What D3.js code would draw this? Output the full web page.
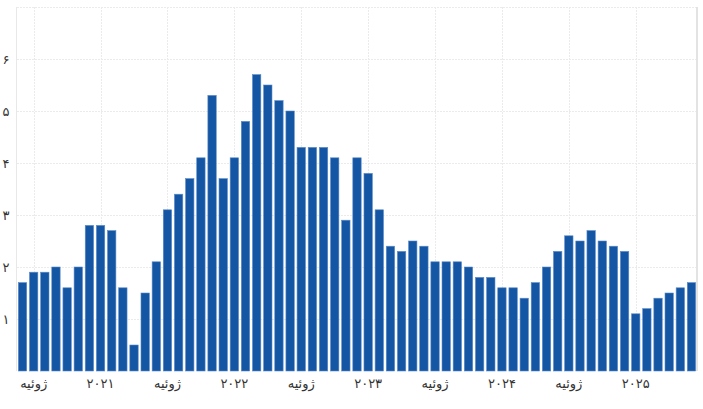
<!DOCTYPE html>
<html><head><meta charset="utf-8">
<script src="https://cdn.jsdelivr.net/npm/d3@7"></script>
<style>body{margin:0;background:#fff}svg{display:block}text{font-family:"DejaVu Serif","DejaVu Sans",serif}</style>
</head><body><svg id="c" width="703" height="409"></svg>
<script>
const startYear = 2020, startMonth = 5; // June 2020 (0-based month)
const values = [1.7,1.9,1.9,2.0,1.6,2.0,2.8,2.8,2.7,1.6,0.5,1.5,2.1,3.1,3.4,3.7,4.1,5.3,3.7,4.1,
  4.8,5.7,5.5,5.2,5.0,4.3,4.3,4.3,4.1,2.9,4.1,3.8,3.1,2.4,2.3,2.5,2.4,2.1,2.1,2.1,
  2.0,1.8,1.8,1.6,1.6,1.4,1.7,2.0,2.3,2.6,2.5,2.7,2.5,2.4,2.3,1.1,1.2,1.4,1.5,1.6,1.7];
const yTicks = [1,2,3,4,5,6];
const yTickLabels = ["۱","۲","۳","۴","۵","۶"];
const julyLabel = "ژوئیه";
const yearLabels = {2021:"۲۰۲۱",2022:"۲۰۲۲",2023:"۲۰۲۳",2024:"۲۰۲۴",2025:"۲۰۲۵"};

const months = values.map((v,i)=>new Date(startYear, startMonth+i, 1));
const data = months.map((d,i)=>({date:d, value:values[i], key:i}));

const svg = d3.select("#c");
const L=17, R=697, T=7, B=371;
const x = d3.scaleBand().domain(data.map(d=>d.key)).range([L,R]).paddingInner(0.25).paddingOuter(0.12);
const y = d3.scaleLinear().domain([0,7]).range([B,T]);

// horizontal grid
svg.append("g").selectAll("line").data([1,2,3,4,5,6,7]).join("line")
  .attr("x1",L).attr("x2",R).attr("y1",d=>y(d)+0.5).attr("y2",d=>y(d)+0.5)
  .attr("stroke","#ebebeb").attr("stroke-width",1).attr("stroke-dasharray","2,1");
// vertical grid at Jan/Jul
const tickData = data.filter(d=>d.date.getMonth()===0||d.date.getMonth()===6);
svg.append("g").selectAll("line").data(tickData).join("line")
  .attr("x1",d=>Math.round(x(d.key)+x.bandwidth()/2)+0.5).attr("x2",d=>Math.round(x(d.key)+x.bandwidth()/2)+0.5)
  .attr("y1",T).attr("y2",B)
  .attr("stroke","#ebebeb").attr("stroke-width",1).attr("stroke-dasharray","2,1");
// borders
svg.append("line").attr("x1",L-0.5).attr("x2",L-0.5).attr("y1",T).attr("y2",B).attr("stroke","#e8e8e8");
svg.append("line").attr("x1",R).attr("x2",R).attr("y1",T).attr("y2",B).attr("stroke","#e3e3e3").attr("stroke-width",2);

// bars
svg.append("g").selectAll("rect").data(data).join("rect")
  .attr("x",d=>x(d.key)).attr("width",x.bandwidth())
  .attr("y",d=>y(d.value)).attr("height",d=>y(0)-y(d.value))
  .attr("fill","#1456a3").attr("stroke","#5a8bc8").attr("stroke-width",0.6);

// y labels
svg.append("g").selectAll("text").data(yTicks).join("text")
  .attr("x",6).attr("y",d=>y(d)+5).attr("text-anchor","middle")
  .attr("font-size",13).attr("fill","#333").text((d,i)=>yTickLabels[i]);

// x labels
svg.append("g").selectAll("text").data(tickData).join("text")
  .attr("x",d=>x(d.key)+x.bandwidth()/2).attr("y",388).attr("text-anchor","middle")
  .attr("font-size",13).attr("fill","#333")
  .text(d=>d.date.getMonth()===6?julyLabel:yearLabels[d.date.getFullYear()]);
</script></body></html>
